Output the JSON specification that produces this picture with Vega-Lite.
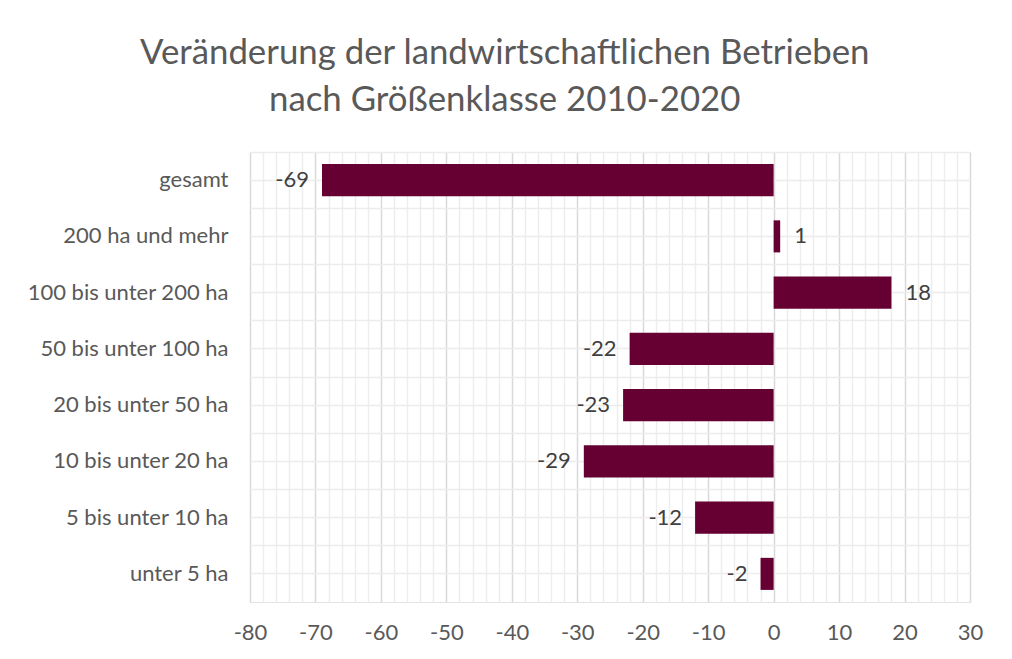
{
  "$schema": "https://vega.github.io/schema/vega-lite/v6.json",
  "width": 720,
  "height": 450,
  "autosize": {"type": "none"},
  "padding": {"left": 250, "top": 152, "right": 42, "bottom": 57},
  "background": "white",
  "title": {
    "text": ["Veränderung der landwirtschaftlichen Betrieben", "nach Größenklasse 2010-2020"],
    "font": "Lato",
    "fontSize": 34.8,
    "fontWeight": "normal",
    "color": "#595959",
    "lineHeight": 47,
    "anchor": "middle",
    "frame": "bounds",
    "offset": 33
  },
  "config": {
    "view": {"stroke": "#e3e3e3"},
    "axis": {"labelFont": "Lato", "labelColor": "#595959", "labelFontSize": 22, "labelLimit": 400}
  },
  "data": {
    "values": [
      {"klasse": "gesamt", "wert": -69},
      {"klasse": "200 ha und mehr", "wert": 1},
      {"klasse": "100 bis unter 200 ha", "wert": 18},
      {"klasse": "50 bis unter 100 ha", "wert": -22},
      {"klasse": "20 bis unter 50 ha", "wert": -23},
      {"klasse": "10 bis unter 20 ha", "wert": -29},
      {"klasse": "5 bis unter 10 ha", "wert": -12},
      {"klasse": "unter 5 ha", "wert": -2}
    ]
  },
  "layer": [
    {
      "mark": {"type": "bar", "color": "#660033", "height": {"band": 0.57}},
      "encoding": {
        "x": {
          "field": "wert", "type": "quantitative",
          "scale": {"domain": [-80, 30], "nice": false, "zero": false},
          "axis": {
            "orient": "bottom", "title": null, "values": [-80, -70, -60, -50, -40, -30, -20, -10, 0, 10, 20, 30],
            "labelExpr": "datum.value + ''", "labelFlush": false,
            "grid": true, "gridColor": "#d9d9d9", "gridWidth": 1.5, "ticks": false, "domain": false, "labelPadding": 20
          }
        },
        "y": {
          "field": "klasse", "type": "nominal", "sort": null,
          "scale": {"paddingInner": 0, "paddingOuter": 0},
          "axis": {
            "orient": "left", "title": null, "grid": true, "gridColor": "#ececec", "gridWidth": 1.5,
            "bandPosition": 0.5, "ticks": false, "domain": false, "labelPadding": 22
          }
        }
      }
    },
    {
      "transform": [{"filter": "datum.wert < 0"}],
      "mark": {"type": "text", "align": "right", "baseline": "middle", "dx": -13, "font": "Lato", "fontSize": 22, "color": "#404040"},
      "encoding": {
        "x": {
          "field": "wert", "type": "quantitative",
          "axis": {
            "orient": "top", "title": null, "labels": false, "ticks": false, "domain": false,
            "values": [-78, -76, -74, -72, -68, -66, -64, -62, -58, -56, -54, -52, -48, -46, -44, -42, -38, -36, -34, -32, -28, -26, -24, -22, -18, -16, -14, -12, -8, -6, -4, -2, 2, 4, 6, 8, 12, 14, 16, 18, 22, 24, 26, 28],
            "grid": true, "gridColor": "#ededed", "gridWidth": 1.5
          }
        },
        "y": {
          "field": "klasse", "type": "nominal", "sort": null,
          "axis": {
            "orient": "right", "title": null, "labels": false, "ticks": false, "domain": false,
            "grid": true, "gridColor": "#ececec", "gridWidth": 1.5, "bandPosition": 0
          }
        },
        "text": {"field": "wert", "type": "nominal"}
      }
    },
    {
      "transform": [{"filter": "datum.wert >= 0"}],
      "mark": {"type": "text", "align": "left", "baseline": "middle", "dx": 14, "font": "Lato", "fontSize": 22, "color": "#404040"},
      "encoding": {
        "x": {"field": "wert", "type": "quantitative", "axis": null},
        "y": {"field": "klasse", "type": "nominal", "sort": null, "axis": null},
        "text": {"field": "wert", "type": "nominal"}
      }
    }
  ],
  "resolve": {"axis": {"x": "independent", "y": "independent"}}
}
